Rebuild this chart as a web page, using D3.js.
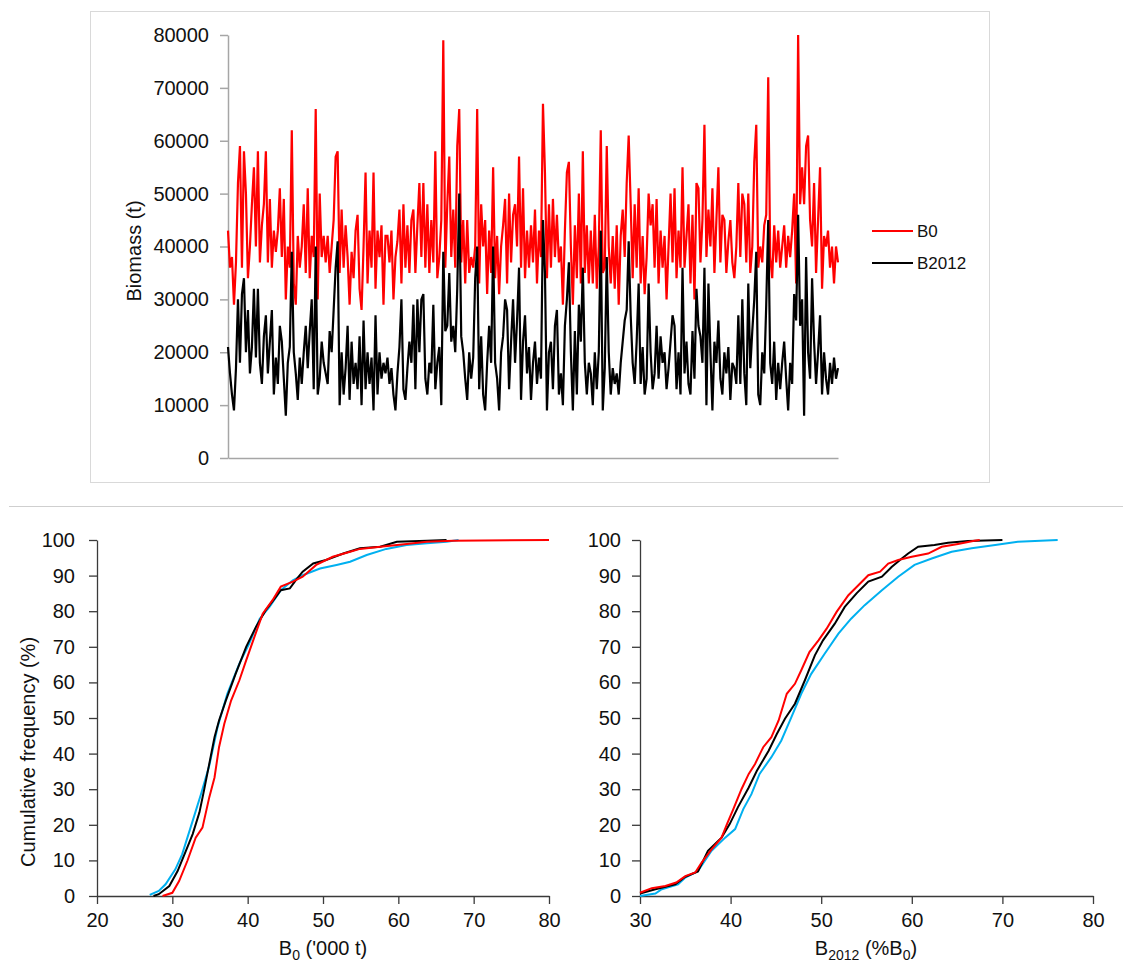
<!DOCTYPE html>
<html>
<head>
<meta charset="utf-8">
<script src="https://cdn.jsdelivr.net/npm/d3@7"></script>
<style>
  body { margin: 0; background: #fff; }
  svg { display: block; font-family: "Liberation Sans", Arial, sans-serif; }
</style>
</head>
<body>
<div id="chart"></div>
<script>
// Simulated biomass trajectories ('000 t)
const b0Series = [
  43,36,38,29,37,52,59,36,58,50, 34,40,48,55,40,58,37,44,48,58,
  37,49,36,43,39,43,51,38,49,30, 40,36,62,33,29,42,36,40,48,35,
  51,34,42,38,66,30,50,38,42,37, 42,35,40,45,57,58,35,47,36,44,
  38,29,39,34,43,46,32,28,40,54, 33,43,36,54,32,43,38,44,29,42,
  42,37,43,30,38,41,47,33,48,36, 44,35,45,47,35,44,52,38,52,36,
  48,35,45,37,58,34,38,45,79,36, 48,57,38,47,36,59,66,37,45,33,
  45,35,38,36,40,66,33,48,40,45, 31,43,35,55,34,42,31,40,44,49,
  33,50,37,46,48,40,57,36,51,34, 43,36,44,37,47,33,43,38,
  67,54,34,48,36,49,38,46,37,40, 29,43,54,56,40,29,44,34,50,33,
  58,35,44,33,43,33,46,32,40,62, 35,36,59,40,33,42,32,44,29,42,
  47,38,52,61,48,34,48,36,51,33, 42,31,38,50,44,48,36,49,33,43,
  36,42,30,40,50,37,51,34,43,36, 55,36,42,48,33,46,30,
  52,51,37,45,63,38,47,40,51,35, 45,55,37,46,45,35,41,45,37,34,
  40,52,38,50,48,37,50,35,40,56, 63,36,40,37,44,46,72,38,34,44,
  37,43,36,40,44,36,42,38,43,50, 33,80,48,55,48,59,61,45,40,52,
  35,45,55,32,42,40,43,36,40,33, 40,37
];
const b2012Series = [
  21,16,12,9,17,30,18,31,34,20, 28,16,21,32,19,32,18,14,23,27,
  16,22,28,12,19,14,25,22,15,8, 18,21,39,20,16,11,19,14,20,25,
  17,24,30,13,40,12,15,22,18,16, 14,24,20,28,36,41,10,20,12,17,
  25,11,22,14,18,13,23,10,26,13, 20,14,19,9,27,12,20,15,18,16,
  19,14,17,12,9,16,21,30,13,11, 17,22,18,29,13,30,20,30,31,15,
  12,18,16,29,13,18,21,10,39,24, 25,35,22,25,20,32,50,23,20,15,
  11,20,15,19,34,40,13,23,12,9, 18,25,18,40,18,15,9,20,23,30,
  28,13,22,30,18,26,36,11,22,27, 16,21,11,18,22,14,19,15,
  45,35,9,20,22,13,25,28,12,16, 10,25,30,37,20,9,24,12,29,22,
  36,18,12,18,16,10,20,13,20,43, 9,17,38,20,12,17,14,16,12,18,
  22,26,28,41,27,18,14,22,33,14, 21,12,15,33,20,13,16,25,15,23,
  18,20,13,17,22,27,25,13,20,12, 36,16,22,14,12,24,15,
  32,25,23,18,36,10,33,20,9,22, 18,26,15,12,20,16,21,11,18,17,
  14,27,14,30,16,10,33,17,24,30, 39,12,10,20,16,29,45,18,14,22,
  11,18,13,18,22,15,9,18,14,31, 26,46,25,30,8,38,20,15,34,22,
  14,20,27,12,20,15,12,18,14,19, 15,17
];
const seriesNames = ["B0", "B2012"];
const seriesColors = ["#ff0000", "#000000"];
const biomassTicks = [0, 10000, 20000, 30000, 40000, 50000, 60000, 70000, 80000];

// Cumulative frequency curves: [value, cumulative %]
const cdfB0Black = [[27.5,0],[28.2,0.5],[29.6,2.8],[30.7,7],[31.8,12.7],[32.7,17.4],[33.6,23.5],[34.2,29.6],[34.9,37.1],[35.6,44.6],[36.2,49.3],[37.1,54.9],[38.4,62.4],[39.8,70],[41.1,75.6],[42.4,80.3],[43.6,83.6],[44.4,85.9],[45.6,86.4],[46.4,88.7],[47.3,91.1],[48.7,93.4],[50.4,94.4],[52.7,96.2],[54.9,97.7],[57.6,98.1],[59.8,99.5],[63.8,99.8],[66.4,100]];
const cdfB0Blue = [[27,0.3],[28.2,1.4],[29.1,3.3],[30.4,7.5],[31.3,11.7],[32.7,21.1],[33.8,28.6],[34.9,36.6],[36,47.4],[37.3,56.8],[38.9,65.3],[40.2,70.9],[41.6,77.9],[42.9,81.2],[44.4,85.9],[46,88.7],[47.3,90.1],[49.6,92],[51.8,93],[53.6,93.9],[55.8,95.8],[58.4,97.5],[61.1,98.6],[63.8,99.1],[66.4,99.5],[68,100]];
const cdfB0Red = [[28.7,0],[30,0.9],[30.9,4.2],[32,9.9],[33.1,16.4],[34,19.2],[34.9,27.7],[35.6,33.3],[36.2,41.8],[36.9,48.4],[37.8,54.9],[38.9,60.6],[39.8,66.2],[40.9,72.8],[42,79.3],[43.3,83.1],[44.4,86.9],[46,88.3],[47.3,89.7],[49.1,93],[51.3,95.3],[53.6,96.7],[54.9,97.5],[57.6,98.1],[61.1,98.9],[63.8,99.5],[67.3,99.8],[80,100]];
const cdfDepRed = [[30,0.9],[31.3,2.2],[32.8,2.8],[34,3.8],[35,5.6],[36.1,6.6],[36.8,9.4],[37.9,13.1],[39,16.4],[39.6,20.2],[40.3,24.4],[41.2,30],[42,34.3],[42.7,37.1],[43.6,41.8],[44.5,44.6],[45.3,49.3],[46.2,56.8],[47.1,59.6],[47.8,63.4],[48.7,68.5],[49.7,71.8],[50.6,75.1],[51.7,79.8],[53,84.5],[54.1,87.3],[55.2,90.1],[56.5,91.1],[57.4,93.4],[58.5,94.4],[60,95.3],[61.8,96.2],[63.3,98.1],[65.1,98.9],[66.9,99.8],[67.5,100]];
const cdfDepBlack = [[30,0.7],[31.7,1.9],[33.9,3.3],[35,5.4],[36.4,6.9],[37.5,12.7],[39,16.4],[39.9,20.2],[40.8,24.9],[42,30.5],[42.9,35.2],[44.2,40.8],[45.1,45.5],[46,49.8],[47.1,54],[48.2,60.6],[49.3,67.6],[50.2,71.8],[51.5,76.5],[52.6,81.2],[53.9,85],[55.2,88.3],[56.7,89.7],[57.8,92.5],[58.9,94.8],[59.6,96.2],[60.7,98.1],[62.5,98.6],[64,99.2],[66.2,99.7],[70,100]];
const cdfDepBlue = [[30,0],[31.7,0.7],[32.4,1.9],[34.2,3.3],[35,5.2],[36.4,7],[37.9,12.7],[39.4,16.4],[40.5,18.8],[41.4,24.4],[42.3,28.6],[43.2,34.3],[44.5,39],[45.6,43.7],[46.7,50.2],[47.8,56.8],[48.9,62.4],[50.4,68.1],[51.9,73.7],[53.3,77.9],[54.8,81.7],[56.7,85.9],[58.5,89.7],[60.3,93],[62.2,94.8],[64.4,96.7],[66.6,97.7],[69.2,98.6],[71.7,99.5],[76.1,100]];
const freqTicks = [0, 10, 20, 30, 40, 50, 60, 70, 80, 90, 100];
const b0Ticks = [20, 30, 40, 50, 60, 70, 80];
const depTicks = [30, 40, 50, 60, 70, 80];

const width = 1123;
const height = 966;

const svg = d3.select("#chart").append("svg")
    .attr("width", width)
    .attr("height", height);

// ---- top panel: biomass time series ----
svg.append("rect")
    .attr("x", 90.5).attr("y", 11.5)
    .attr("width", 899).attr("height", 471)
    .attr("fill", "none")
    .attr("stroke", "#d9d9d9");

const xTop = d3.scaleLinear().domain([0, b0Series.length - 1]).range([228, 838]);
const yTop = d3.scaleLinear().domain([0, 80000]).range([458, 35]);

const yAxisTop = svg.append("g")
    .attr("transform", "translate(228,0)")
    .call(d3.axisLeft(yTop).tickValues(biomassTicks).tickSize(8).tickPadding(11)
        .tickSizeOuter(0).tickFormat(d3.format("d")));
yAxisTop.selectAll("path, line").attr("stroke", "#a6a6a6").attr("stroke-width", 1.5);
yAxisTop.selectAll("text").attr("font-size", 20).attr("fill", "#111")
    .attr("font-family", "Liberation Sans, Arial, sans-serif");

const xAxisTop = svg.append("g")
    .attr("transform", "translate(0,458)")
    .call(d3.axisBottom(xTop).tickValues([]).tickSizeOuter(0));
xAxisTop.selectAll("path").attr("stroke", "#a6a6a6").attr("stroke-width", 1.5);

svg.append("text")
    .attr("transform", "translate(141,251) rotate(-90)")
    .attr("text-anchor", "middle")
    .attr("font-size", 20)
    .attr("fill", "#111")
    .text("Biomass (t)");

const topLine = d3.line()
    .x((d, i) => xTop(i))
    .y(d => yTop(d * 1000));

[b0Series, b2012Series].forEach((s, k) => {
    svg.append("path")
        .datum(s)
        .attr("fill", "none")
        .attr("stroke", seriesColors[k])
        .attr("stroke-width", 2.2)
        .attr("stroke-linejoin", "miter")
        .attr("d", topLine);
});

// legend
const legend = svg.append("g");
seriesNames.forEach((name, k) => {
    const ly = 231 + k * 32;
    legend.append("line")
        .attr("x1", 872).attr("x2", 913)
        .attr("y1", ly).attr("y2", ly)
        .attr("stroke", seriesColors[k])
        .attr("stroke-width", 2);
    legend.append("text")
        .attr("x", 917).attr("y", ly)
        .attr("dy", "0.35em")
        .attr("font-size", 17)
        .attr("fill", "#111")
        .text(name);
});

// separator
svg.append("line")
    .attr("x1", 9).attr("x2", 1123)
    .attr("y1", 506.5).attr("y2", 506.5)
    .attr("stroke", "#cfcfcf");

// ---- bottom panels: cumulative frequency ----
const yCdf = d3.scaleLinear().domain([0, 100]).range([896, 540]);
const cdfColors = { red: "#ff0000", black: "#000000", blue: "#00b0f0" };

function cdfPanel(xScale, ticks, curves, yPad) {
    const g = svg.append("g");
    const x0 = xScale.range()[0];

    const ya = g.append("g")
        .attr("transform", `translate(${x0},0)`)
        .call(d3.axisLeft(yCdf).tickValues(freqTicks).tickSize(8).tickPadding(yPad).tickSizeOuter(0));
    const xa = g.append("g")
        .attr("transform", "translate(0,896)")
        .call(d3.axisBottom(xScale).tickValues(ticks).tickSize(8).tickPadding(9).tickSizeOuter(0));
    [ya, xa].forEach(a => {
        a.selectAll("path, line").attr("stroke", "#3a3a3a").attr("stroke-width", 1.3);
        a.selectAll("text").attr("font-size", 20).attr("fill", "#111")
            .attr("font-family", "Liberation Sans, Arial, sans-serif");
    });

    const line = d3.line()
        .x(d => xScale(d[0]))
        .y(d => yCdf(d[1]));

    curves.forEach(c => {
        g.append("path")
            .datum(c.data)
            .attr("fill", "none")
            .attr("stroke", cdfColors[c.color])
            .attr("stroke-width", 2)
            .attr("d", line);
    });
    return g;
}

const xB0 = d3.scaleLinear().domain([20, 80]).range([97, 549]);
cdfPanel(xB0, b0Ticks, [
    { data: cdfB0Blue, color: "blue" },
    { data: cdfB0Black, color: "black" },
    { data: cdfB0Red, color: "red" }
], 14);

const xDep = d3.scaleLinear().domain([30, 80]).range([640, 1093]);
cdfPanel(xDep, depTicks, [
    { data: cdfDepBlue, color: "blue" },
    { data: cdfDepBlack, color: "black" },
    { data: cdfDepRed, color: "red" }
], 11);

// axis titles
svg.append("text")
    .attr("transform", "translate(35,752) rotate(-90)")
    .attr("text-anchor", "middle")
    .attr("font-size", 20)
    .attr("fill", "#111")
    .text("Cumulative frequency (%)");

const t1 = svg.append("text")
    .attr("x", 323).attr("y", 955)
    .attr("text-anchor", "middle")
    .attr("font-size", 20)
    .attr("fill", "#111");
t1.append("tspan").text("B");
t1.append("tspan").attr("font-size", 14).attr("dy", 5).text("0");
t1.append("tspan").attr("dy", -5).text(" ('000 t)");

const t2 = svg.append("text")
    .attr("x", 866).attr("y", 955)
    .attr("text-anchor", "middle")
    .attr("font-size", 20)
    .attr("fill", "#111");
t2.append("tspan").text("B");
t2.append("tspan").attr("font-size", 14).attr("dy", 5).text("2012");
t2.append("tspan").attr("dy", -5).text(" (%B");
t2.append("tspan").attr("font-size", 14).attr("dy", 5).text("0");
t2.append("tspan").attr("dy", -5).text(")");
</script>
</body>
</html>
